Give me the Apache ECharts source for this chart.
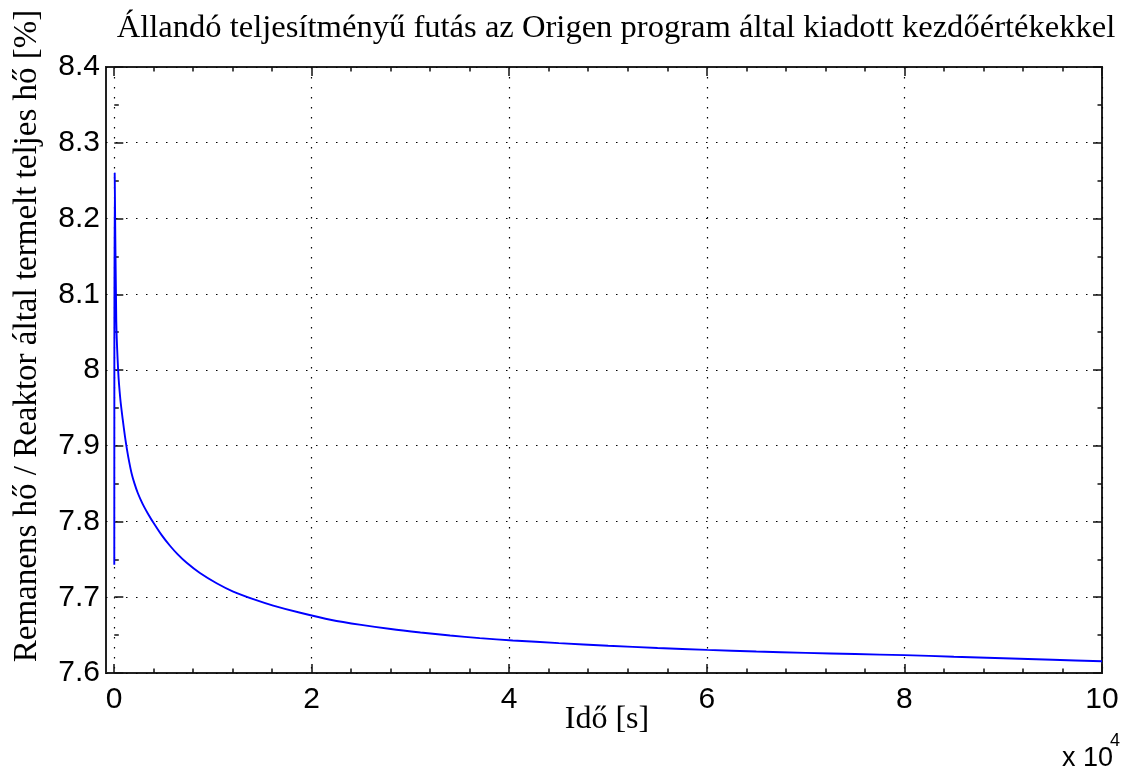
<!DOCTYPE html>
<html>
<head>
<meta charset="utf-8">
<script src="https://cdn.jsdelivr.net/npm/echarts@6/dist/echarts.min.js"></script>
<style>
html,body{margin:0;padding:0;background:#fff;}
#chart{width:1123px;height:767px;}
</style>
</head>
<body>
<div id="chart"></div>
<script>
// Time [s]
const timeSec = [0, 40, 200, 400, 607, 850, 1083, 1285, 1518, 1760, 2024, 2368, 2700, 3036, 3380, 3886, 4797, 5637, 6400, 7330, 8670, 10360, 12040, 14070, 16090, 18830, 22000, 25000, 28000, 31000, 34000, 37000, 40350, 45000, 50000, 55000, 60000, 65000, 70000, 75000, 80000, 85000, 90000, 95000, 100000];
// Remanent heat / total reactor heat [%]
const heatPct = [7.743, 8.26, 8.065, 7.997, 7.962, 7.935, 7.912, 7.895, 7.878, 7.863, 7.851, 7.838, 7.828, 7.819, 7.811, 7.800, 7.782, 7.768, 7.757, 7.7455, 7.732, 7.7185, 7.7075, 7.6975, 7.689, 7.6795, 7.670, 7.6635, 7.658, 7.6535, 7.6495, 7.646, 7.643, 7.6395, 7.636, 7.633, 7.6305, 7.6284, 7.6266, 7.625, 7.6236, 7.6215, 7.6195, 7.6175, 7.6155];
const xTickValues = [0, 20000, 40000, 60000, 80000, 100000];
const yTickValues = [7.6, 7.7, 7.8, 7.9, 8, 8.1, 8.2, 8.3, 8.4];

const titleText = 'Állandó teljesítményű futás az Origen program által kiadott kezdőértékekkel';
const xName = 'Idő [s]';
const yName = 'Remanens hő / Reaktor által termelt teljes hő [%]';

const chart = echarts.init(document.getElementById('chart'), null, {renderer: 'canvas'});
const serif = '"Liberation Serif", "Times New Roman", serif';
const sans = '"Liberation Sans", Arial, sans-serif';
const dotted = {color: '#000', width: 1.2, type: [1.5, 8.5]};
const tickStyle = {color: '#111', width: 1.5};

const option = {
  backgroundColor: '#fff',
  animation: false,
  title: {
    text: titleText,
    left: 611, top: 7, textAlign: 'center',
    textStyle: {fontFamily: serif, fontSize: 32.6, fontWeight: 'normal', color: '#000'}
  },
  grid: [
    {left: 106, top: 67, width: 996, height: 606, show: true, borderColor: '#222', borderWidth: 2, backgroundColor: 'transparent'},
    {left: 114, top: 67, width: 988, height: 606, show: false}
  ],
  xAxis: [
    {gridIndex: 0, type: 'value', min: -840, max: 100000, show: false},
    {gridIndex: 1, type: 'value', min: 0, max: 100000, interval: 20000, position: 'bottom',
      axisLine: {show: false},
      axisTick: {show: true, inside: true, length: 9, lineStyle: tickStyle},
      minorTick: {show: true, splitNumber: 5, length: 4.5, lineStyle: tickStyle},
      splitLine: {show: true, lineStyle: dotted},
      axisLabel: {show: true, margin: 12, fontFamily: sans, fontSize: 30, color: '#000',
        formatter: v => String(v / 10000)}
    },
    {gridIndex: 1, type: 'value', min: 0, max: 100000, interval: 20000, position: 'top',
      axisLine: {show: false},
      axisTick: {show: true, inside: true, length: 9, lineStyle: tickStyle},
      minorTick: {show: true, splitNumber: 5, length: 4.5, lineStyle: tickStyle},
      splitLine: {show: false}, axisLabel: {show: false}
    }
  ],
  yAxis: [
    {gridIndex: 0, type: 'value', min: 7.6, max: 8.4, interval: 0.1, position: 'left',
      axisLine: {show: false},
      axisTick: {show: true, inside: true, length: 9, lineStyle: tickStyle},
      minorTick: {show: true, splitNumber: 2, length: 4.5, lineStyle: tickStyle},
      splitLine: {show: true, lineStyle: dotted},
      axisLabel: {show: true, margin: 6, fontFamily: sans, fontSize: 30, color: '#000'}
    },
    {gridIndex: 0, type: 'value', min: 7.6, max: 8.4, interval: 0.1, position: 'right',
      axisLine: {show: false},
      axisTick: {show: true, inside: true, length: 9, lineStyle: tickStyle},
      minorTick: {show: true, splitNumber: 2, length: 4.5, lineStyle: tickStyle},
      splitLine: {show: false}, axisLabel: {show: false}
    },
    {gridIndex: 1, type: 'value', min: 7.6, max: 8.4, show: false}
  ],
  graphic: [
    {type: 'text', x: 27, y: 336, rotation: Math.PI / 2,
      style: {text: yName, fontFamily: serif, fontSize: 33, fill: '#000', align: 'center', verticalAlign: 'middle'}},
    {type: 'text', x: 607, y: 720,
      style: {text: xName, fontFamily: serif, fontSize: 32, fill: '#000', align: 'center', verticalAlign: 'middle'}},
    {type: 'text', x: 1062, y: 772, style: {text: 'x 10', fontFamily: sans, fontSize: 27, fill: '#000', align: 'left', verticalAlign: 'bottom'}},
    {type: 'text', x: 1110, y: 750, style: {text: '4', fontFamily: sans, fontSize: 18, fill: '#000', align: 'left', verticalAlign: 'bottom'}}
  ],
  series: [{
    type: 'line', xAxisIndex: 0, yAxisIndex: 0,
    data: timeSec.map((t, i) => [t, heatPct[i]]),
    showSymbol: false, symbol: 'none',
    smooth: 0.25,
    lineStyle: {color: '#0000ff', width: 1.9},
    z: 5
  }]
};
chart.setOption(option);
</script>
</body>
</html>
